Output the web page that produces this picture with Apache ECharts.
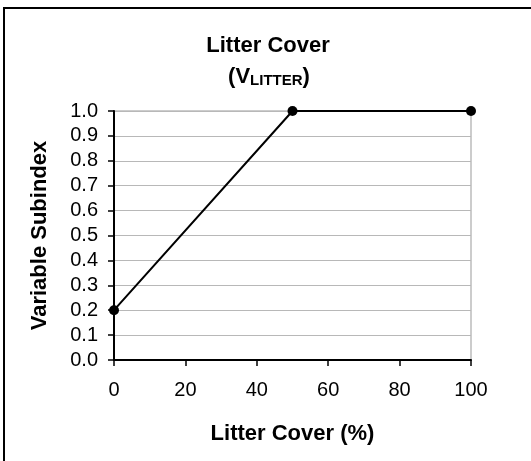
<!DOCTYPE html>
<html><head><meta charset="utf-8">
<script src="https://cdn.jsdelivr.net/npm/echarts@6/dist/echarts.min.js"></script>
<style>html,body{margin:0;padding:0;background:#fff}#c{width:531px;height:461px}</style>
</head><body><div id="c"></div>
<script>
var xValues = [0, 50, 100];
var yValues = [0.2, 1.0, 1.0];
var titleMain = 'Litter Cover';
var titleSub = 'LITTER';
var xAxisName = 'Litter Cover (%)';
var yAxisName = 'Variable Subindex';

var chart = echarts.init(document.getElementById('c'));
var font = 'Arial, "Liberation Sans", sans-serif';
chart.setOption({
  animation: false,
  backgroundColor: '#fff',
  graphic: [
    {type: 'rect', shape: {x: 4, y: 8, width: 620, height: 600}, style: {fill: 'none', stroke: '#000', lineWidth: 2}, z: 100}
  ],
  title: [
    {text: titleMain, left: 263, top: 30, textAlign: 'center',
     textStyle: {fontFamily: font, fontWeight: 'bold', fontSize: 22, color: '#000'}},
    {text: '{p|(V}{s|' + titleSub + '}{p|)}', left: 264, top: 57, textAlign: 'center',
     textStyle: {rich: {
       p: {fontFamily: font, fontWeight: 'bold', fontSize: 22, color: '#000', verticalAlign: 'bottom', lineHeight: 26},
       s: {fontFamily: font, fontWeight: 'bold', fontSize: 15, color: '#000', verticalAlign: 'bottom', padding: [9, 0, 0, 0], lineHeight: 26}
     }}}
  ],
  grid: {left: 114, right: 60, top: 111, bottom: 101, show: true, borderColor: '#999', borderWidth: 1},
  xAxis: {
    type: 'value', min: 0, max: 100, interval: 20,
    name: xAxisName, nameLocation: 'middle', nameGap: 63,
    nameTextStyle: {fontFamily: font, fontWeight: 'bold', fontSize: 22, color: '#000'},
    axisLine: {show: true, onZero: false, lineStyle: {color: '#000', width: 2}},
    axisTick: {show: true, length: 6, inside: false, lineStyle: {color: '#000', width: 1.5}},
    axisLabel: {fontFamily: font, fontSize: 20, color: '#000', margin: 20},
    splitLine: {show: false}
  },
  yAxis: {
    type: 'value', min: 0, max: 1, interval: 0.1,
    name: yAxisName, nameLocation: 'middle', nameGap: 63, nameRotate: 90,
    nameTextStyle: {fontFamily: font, fontWeight: 'bold', fontSize: 22, color: '#000'},
    axisLine: {show: true, onZero: false, lineStyle: {color: '#000', width: 2}},
    axisTick: {show: true, length: 6, inside: false, lineStyle: {color: '#000', width: 1.5}},
    axisLabel: {fontFamily: font, fontSize: 20, color: '#000', margin: 16,
      formatter: function (v) { return v.toFixed(1); }},
    splitLine: {show: true, lineStyle: {color: '#b8b8b8', width: 1}}
  },
  series: [{
    type: 'line',
    data: xValues.map(function (x, i) { return [x, yValues[i]]; }),
    symbol: 'circle', symbolSize: 10,
    itemStyle: {color: '#000'},
    lineStyle: {color: '#000', width: 2},
    clip: false, z: 10
  }]
});
</script></body></html>
